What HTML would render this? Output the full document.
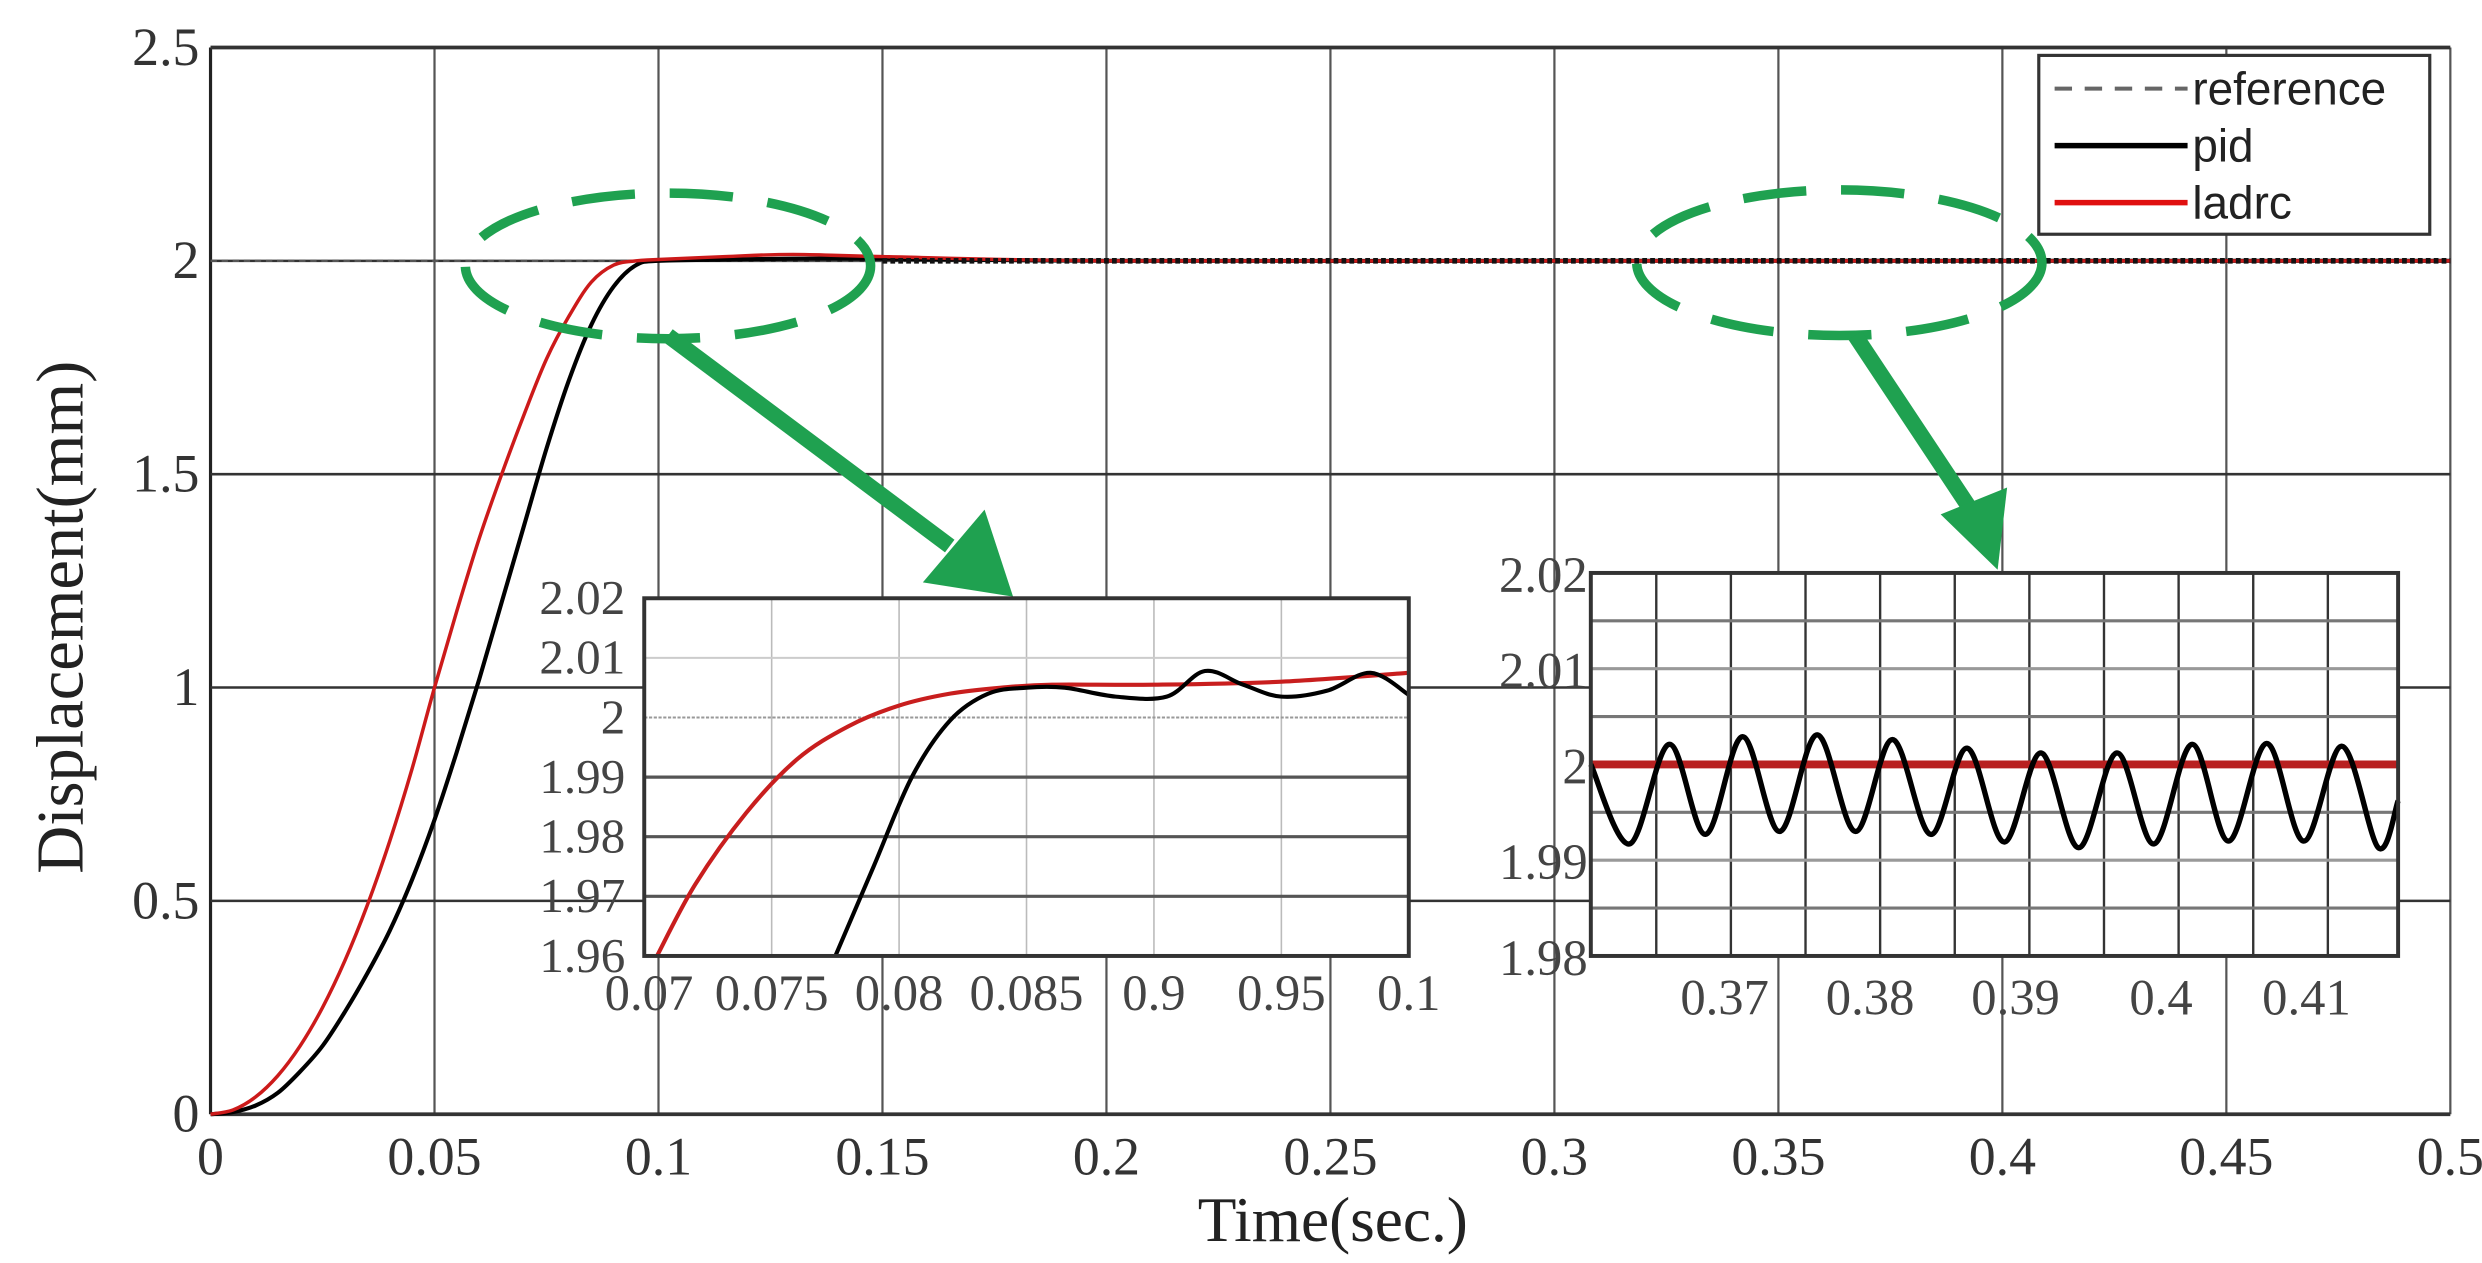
<!DOCTYPE html>
<html><head><meta charset="utf-8"><style>
html,body{margin:0;padding:0;background:#fff;}
svg{display:block;}
</style></head><body>
<svg id="chart" width="2482" height="1263" viewBox="0 0 1568 798" preserveAspectRatio="none" xmlns="http://www.w3.org/2000/svg" font-family="'Liberation Serif', serif">
<rect x="0" y="0" width="1568" height="798" fill="#fff"/>
<g id="main"></g>
<g id="deco"></g>
<g id="inset1"></g>
<g id="inset2"></g>
<g id="legend"></g>
</svg>
<script>
// ---- main chart data ----
const mainXTicks = [0,0.05,0.1,0.15,0.2,0.25,0.3,0.35,0.4,0.45,0.5];
const mainXLabels = ["0","0.05","0.1","0.15","0.2","0.25","0.3","0.35","0.4","0.45","0.5"];
const mainYTicks = [0,0.5,1,1.5,2,2.5];
const mainYLabels = ["0","0.5","1","1.5","2","2.5"];
const mainT = [0,0.005,0.01,0.015,0.02,0.025,0.03,0.035,0.04,0.045,0.05,0.055,0.06,0.065,0.07,0.075,0.08,0.085,0.09,0.095,0.1,0.115,0.13,0.15,0.2,0.3,0.4,0.5];
const ladrcMain = [0,0.01,0.04,0.09,0.16,0.25,0.36,0.49,0.64,0.81,1.0,1.18,1.35,1.5,1.64,1.77,1.87,1.95,1.99,2.0,2.003,2.01,2.015,2.01,2.0,2.0,2.0,2.0];
const pidMain = [0,0.005,0.02,0.05,0.1,0.16,0.24,0.33,0.43,0.55,0.69,0.85,1.02,1.2,1.38,1.56,1.72,1.85,1.94,1.99,2.0,2.003,2.005,2.005,2.0,2.0,2.0,2.0];
const referenceValue = 2;
// ---- inset 1 data ----
const in1XTicks = [0.07,0.075,0.08,0.085,0.09,0.095,0.1];
const in1XLabels = ["0.07","0.075","0.08","0.085","0.9","0.95","0.1"];
const in1YTicks = [1.96,1.97,1.98,1.99,2,2.01,2.02];
const in1YLabels = ["1.96","1.97","1.98","1.99","2","2.01","2.02"];
const in1RedT = [0.0705,0.072,0.074,0.076,0.078,0.08,0.082,0.084,0.086,0.09,0.095,0.1];
const in1RedY = [1.96,1.972,1.984,1.993,1.9985,2.002,2.004,2.005,2.0055,2.0055,2.006,2.0075];
const in1PidT = [0.0775,0.079,0.0805,0.082,0.0835,0.085,0.0865,0.0885,0.0905,0.092,0.0935,0.095,0.0968,0.0985,0.1];
const in1PidY = [1.96,1.975,1.99,1.9995,2.004,2.005,2.005,2.0035,2.0035,2.0078,2.0055,2.0035,2.0045,2.0075,2.0038];
// ---- inset 2 data ----
const in2XLabelVals = [0.37,0.38,0.39,0.4,0.41];
const in2XLabels = ["0.37","0.38","0.39","0.4","0.41"];
const in2YTicks = [1.98,1.99,2,2.01,2.02];
const in2YLabels = ["1.98","1.99","2","2.01","2.02"];
const in2PidT = [0.3608,0.36347,0.36619,0.36869,0.37123,0.37378,0.37636,0.37899,0.38154,0.38417,0.38667,0.38921,0.39175,0.39434,0.39697,0.39951,0.40214,0.40464,0.40727,0.40981,0.41244,0.41494,0.4163];
const in2PidY = [2.0,1.9917,2.0021,1.9927,2.0029,1.993,2.0031,1.993,2.0026,1.9927,2.0017,1.9919,2.0012,1.9913,2.0012,1.9917,2.0021,1.992,2.0022,1.992,2.0019,1.9913,1.9962];
const in2Ladrc = 2.0;

const NS = "http://www.w3.org/2000/svg";
function mk(parent, tag, attrs, text){
  const e = document.createElementNS(NS, tag);
  for (const k in attrs) e.setAttribute(k, attrs[k]);
  if (text !== undefined) e.textContent = text;
  parent.appendChild(e); return e;
}
function smoothPath(xs, ys){
  let d = "M" + xs[0].toFixed(2) + "," + ys[0].toFixed(2);
  for (let i=0;i<xs.length-1;i++){
    const x0 = xs[Math.max(i-1,0)], y0 = ys[Math.max(i-1,0)];
    const x1 = xs[i], y1 = ys[i], x2 = xs[i+1], y2 = ys[i+1];
    const x3 = xs[Math.min(i+2,xs.length-1)], y3 = ys[Math.min(i+2,xs.length-1)];
    const c1x = x1+(x2-x0)/6, c1y = y1+(y2-y0)/6, c2x = x2-(x3-x1)/6, c2y = y2-(y3-y1)/6;
    d += " C"+c1x.toFixed(2)+","+c1y.toFixed(2)+" "+c2x.toFixed(2)+","+c2y.toFixed(2)+" "+x2.toFixed(2)+","+y2.toFixed(2);
  }
  return d;
}

// ===== main plot =====
const M = document.getElementById('main');
const mx = t => 133 + (t-0)/(0.5)*(1548-133);
const my = v => 704 - v/2.5*(704-30);
mainXTicks.forEach((t,i)=>{
  let g = mk(M,'line',{x1:mx(t),x2:mx(t),y1:30,y2:704,stroke:i===0?'#222':'#555','stroke-width':i===0?2:1.4});
  
  
  let l = mk(M,'text',{x:mx(t),y:742,'font-size':34,'text-anchor':'middle',fill:'#333'},mainXLabels[i]);
  
  
});
mainYTicks.forEach((v,i)=>{
  let g = mk(M,'line',{x1:133,x2:1548,y1:my(v),y2:my(v),stroke:'#333','stroke-width':(i===0||i===5)?2.4:1.6});
  
  
  let l = mk(M,'text',{x:126,y:my(v)+11,'font-size':34,'text-anchor':'end',fill:'#333'},mainYLabels[i]);
  
  
});
let ref = mk(M,'line',{x1:133,x2:1548,y1:my(referenceValue),y2:my(referenceValue),stroke:'#555','stroke-width':1.5,'stroke-dasharray':'4,3'});


let pidM = mk(M,'path',{d:smoothPath(mainT.map(mx),pidMain.map(my)),fill:'none',stroke:'#000','stroke-width':2.6});


let ladM = mk(M,'path',{d:smoothPath(mainT.map(mx),ladrcMain.map(my)),fill:'none',stroke:'#cc1a1a','stroke-width':2.2});


let wig = mk(M,'line',{x1:mx(0.15),x2:1548,y1:my(2),y2:my(2),stroke:'#111','stroke-width':3.5,'stroke-dasharray':'3,2'});


let yt = mk(M,'text',{x:0,y:0,'font-size':42,'text-anchor':'middle',fill:'#222',transform:'translate(52,390) rotate(-90)'},'Displacement(mm)');


let xt = mk(M,'text',{x:842,y:784,'font-size':40,'text-anchor':'middle',fill:'#222'},'Time(sec.)');



// ===== annotations =====
const D = document.getElementById('deco');
let e1 = mk(D,'ellipse',{cx:422,cy:168,rx:128,ry:46,fill:'none',stroke:'#1fa150','stroke-width':6,'stroke-dasharray':'40,22'});


let e2 = mk(D,'ellipse',{cx:1162,cy:166,rx:128,ry:46,fill:'none',stroke:'#1fa150','stroke-width':6,'stroke-dasharray':'40,22'});


let a1 = mk(D,'line',{x1:422,y1:212,x2:600,y2:345,stroke:'#1fa150','stroke-width':10});


let h1 = mk(D,'polygon',{points:'640,377 583,368 622,322',fill:'#1fa150'});


let a2 = mk(D,'line',{x1:1172,y1:212,x2:1247,y2:325,stroke:'#1fa150','stroke-width':10});


let h2 = mk(D,'polygon',{points:'1262,360 1226,325 1268,308',fill:'#1fa150'});



// ===== inset 1 =====
const I1 = document.getElementById('inset1');
const L1=407,R1=890,T1=378,B1=604;
const ix1 = t => L1 + (t-0.07)/0.03*(R1-L1);
const iy1 = v => B1 - (v-1.96)/0.06*(B1-T1);
let bg1 = mk(I1,'rect',{x:L1,y:T1,width:R1-L1,height:B1-T1,fill:'#fff'});


in1XTicks.forEach((t,i)=>{
  let g = mk(I1,'line',{x1:ix1(t),x2:ix1(t),y1:T1,y2:B1,stroke:'#bbb','stroke-width':1});
  
  
  let l = mk(I1,'text',{x:ix1(t)+(i===0?3:0),y:B1+34,'font-size':32,'text-anchor':'middle',fill:'#444'},in1XLabels[i]);
  
  
});
in1YTicks.forEach((v,i)=>{
  let st = v===2 ? {stroke:'#999','stroke-width':1.2,'stroke-dasharray':'2,1'} : (v>2 ? {stroke:'#ccc','stroke-width':1.2} : {stroke:'#555','stroke-width':2});
  let g = mk(I1,'line',Object.assign({x1:L1,x2:R1,y1:iy1(v),y2:iy1(v)},st));
  
  
  let l = mk(I1,'text',{x:L1-12,y:iy1(v)+10,'font-size':31,'text-anchor':'end',fill:'#444'},in1YLabels[i]);
  
  
});
let r1 = mk(I1,'path',{d:smoothPath(in1RedT.map(ix1),in1RedY.map(iy1)),fill:'none',stroke:'#c81e1e','stroke-width':2.6});


let p1 = mk(I1,'path',{d:smoothPath(in1PidT.map(ix1),in1PidY.map(iy1)),fill:'none',stroke:'#000','stroke-width':2.6});


let f1 = mk(I1,'rect',{x:L1,y:T1,width:R1-L1,height:B1-T1,fill:'none',stroke:'#333','stroke-width':2.5});



// ===== inset 2 =====
const I2 = document.getElementById('inset2');
const L2=1005,R2=1515,T2=362,B2=604;
const X0=0.3608,X1=0.4163;
const ix2 = t => L2 + (t-X0)/(X1-X0)*(R2-L2);
const iy2 = v => B2 - (v-1.98)/0.04*(B2-T2);
let bg2 = mk(I2,'rect',{x:L2,y:T2,width:R2-L2,height:B2-T2,fill:'#fff'});


for (let k=0;k<11;k++){
  const t = 0.3653 + k*0.00513;
  if (t>=X1) break;
  let g = mk(I2,'line',{x1:ix2(t),x2:ix2(t),y1:T2,y2:B2,stroke:'#333','stroke-width':1.5});
  
  
}
for (let k=1;k<8;k++){
  const v = 1.98 + k*0.005;
  let g = mk(I2,'line',{x1:L2,x2:R2,y1:iy2(v),y2:iy2(v),stroke:k%2? '#777':'#999','stroke-width':2});
  
  
}
in2XLabelVals.forEach((t,i)=>{
  let l = mk(I2,'text',{x:ix2(t),y:B2+37,'font-size':32,'text-anchor':'middle',fill:'#444'},in2XLabels[i]);
  
  
});
in2YTicks.forEach((v,i)=>{
  let l = mk(I2,'text',{x:L2-2,y:iy2(v)+12,'font-size':32,'text-anchor':'end',fill:'#444'},in2YLabels[i]);
  
  
});
let r2 = mk(I2,'line',{x1:L2,x2:R2,y1:iy2(in2Ladrc),y2:iy2(in2Ladrc),stroke:'#b82020','stroke-width':5});


let p2 = mk(I2,'path',{d:smoothPath(in2PidT.map(ix2),in2PidY.map(iy2)),fill:'none',stroke:'#000','stroke-width':3.4});


let f2 = mk(I2,'rect',{x:L2,y:T2,width:R2-L2,height:B2-T2,fill:'none',stroke:'#333','stroke-width':2.5});



// ===== legend =====
const G = document.getElementById('legend');
let lb = mk(G,'rect',{x:1288,y:35,width:247,height:113,fill:'#fff',stroke:'#333','stroke-width':2});


const legNames = ['reference','pid','ladrc'];
const legColors = ['#666','#000','#e01010'];
const legDash = ['11,8','',''];
legNames.forEach((n,i)=>{
  const y = 56 + i*36;
  let ln = mk(G,'line',{x1:1298,x2:1382,y1:y,y2:y,stroke:legColors[i],'stroke-width':i===0?2.5:3.5,'stroke-dasharray':legDash[i]});
  
  
  let tx = mk(G,'text',{x:1385,y:y+10,'font-size':29,'font-family':"'Liberation Sans', sans-serif",fill:'#222'},n);
  
  
});
</script>
</body></html>
